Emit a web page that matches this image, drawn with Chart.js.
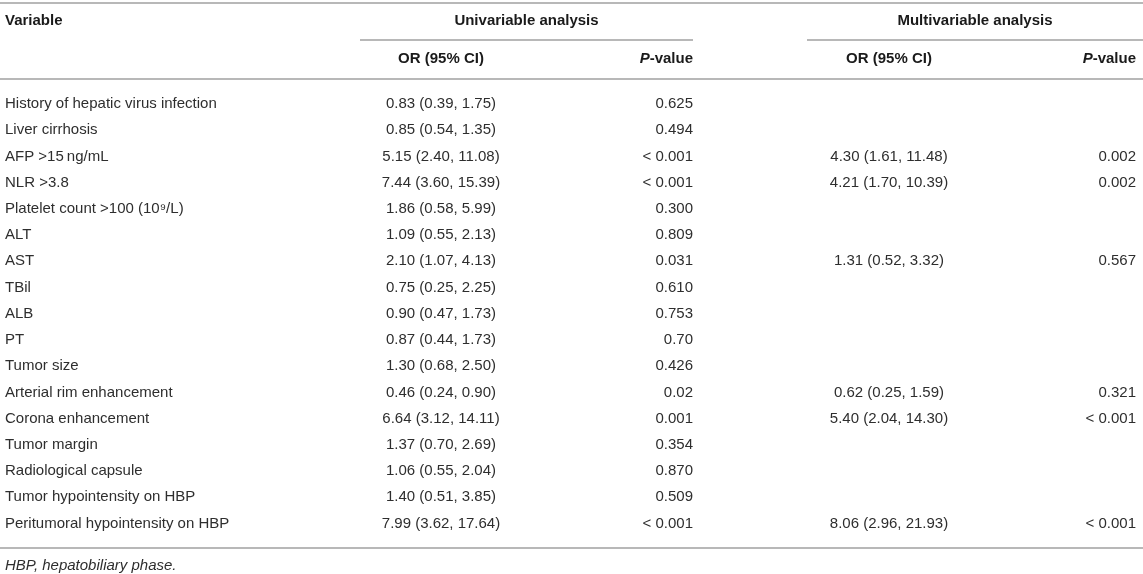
<!DOCTYPE html>
<html>
<head>
<meta charset="utf-8">
<script src="https://cdn.jsdelivr.net/npm/chart.js@4"></script>
<style>
  body { margin: 0; background: #fff; }
  #wrap { width: 1143px; height: 574px; position: relative; }
</style>
</head>
<body>
<div id="wrap"><canvas id="tableChart"></canvas></div>
<script>
// ----------------- Data
const variables = [
  'History of hepatic virus infection', 'Liver cirrhosis', 'AFP >15\u2009ng/mL', 'NLR >3.8',
  'Platelet count >100 (10\u2079/L)', 'ALT', 'AST', 'TBil', 'ALB', 'PT', 'Tumor size',
  'Arterial rim enhancement', 'Corona enhancement', 'Tumor margin', 'Radiological capsule',
  'Tumor hypointensity on HBP', 'Peritumoral hypointensity on HBP'
];
const uniOR = [
  '0.83 (0.39, 1.75)', '0.85 (0.54, 1.35)', '5.15 (2.40, 11.08)', '7.44 (3.60, 15.39)',
  '1.86 (0.58, 5.99)', '1.09 (0.55, 2.13)', '2.10 (1.07, 4.13)', '0.75 (0.25, 2.25)',
  '0.90 (0.47, 1.73)', '0.87 (0.44, 1.73)', '1.30 (0.68, 2.50)', '0.46 (0.24, 0.90)',
  '6.64 (3.12, 14.11)', '1.37 (0.70, 2.69)', '1.06 (0.55, 2.04)', '1.40 (0.51, 3.85)',
  '7.99 (3.62, 17.64)'
];
const uniP = [
  '0.625', '0.494', '< 0.001', '< 0.001', '0.300', '0.809', '0.031', '0.610', '0.753',
  '0.70', '0.426', '0.02', '0.001', '0.354', '0.870', '0.509', '< 0.001'
];
const multiOR = [
  '', '', '4.30 (1.61, 11.48)', '4.21 (1.70, 10.39)', '', '', '1.31 (0.52, 3.32)', '', '',
  '', '', '0.62 (0.25, 1.59)', '5.40 (2.04, 14.30)', '', '', '', '8.06 (2.96, 21.93)'
];
const multiP = [
  '', '', '0.002', '0.002', '', '', '0.567', '', '', '', '', '0.321', '< 0.001', '', '', '', '< 0.001'
];
const groupLabels = ['Univariable analysis', 'Multivariable analysis'];
const colLabels = ['OR (95% CI)', 'P-value'];
const firstHeader = 'Variable';
const footnote = 'HBP, hepatobiliary phase.';

// ----------------- Layout (pixels on x, row units on y)
const FONT = '"Liberation Sans", Arial, sans-serif';
const SIZE = 15;
const cols = [
  { x: 5, align: 'left', rows: variables },
  { x: 441, align: 'center', rows: uniOR },
  { x: 693, align: 'right', rows: uniP },
  { x: 889, align: 'center', rows: multiOR },
  { x: 1136, align: 'right', rows: multiP }
];
const groups = [{ from: 360, to: 693 }, { from: 807, to: 1143 }];
const HEAD1 = -3.17, HEAD2 = -1.72, TOPLINE = -3.86, UNDERLINE = -2.44, HEADLINE = -0.95,
      BOTLINE = 16.95, FOOT = 17.63;

const datasets = cols.map((c, ci) => ({
  label: 'col' + ci,
  data: c.rows.map((t, i) => ({ x: c.x, y: i, text: t })),
  pointRadius: 0,
  align: c.align
}));

const tablePlugin = {
  id: 'tableText',
  afterDatasetsDraw(chart) {
    const ctx = chart.ctx;
    const xs = chart.scales.x, ys = chart.scales.y;
    ctx.save();
    ctx.textBaseline = 'middle';

    // rules
    ctx.strokeStyle = '#b8b8b8';
    ctx.lineWidth = 2;
    const hline = (v, x0, x1) => {
      const y = Math.round(ys.getPixelForValue(v));
      ctx.beginPath();
      ctx.moveTo(xs.getPixelForValue(x0), y);
      ctx.lineTo(xs.getPixelForValue(x1), y);
      ctx.stroke();
    };
    hline(TOPLINE, 0, 1143);
    groups.forEach(g => hline(UNDERLINE, g.from, g.to));
    hline(HEADLINE, 0, 1143);
    hline(BOTLINE, 0, 1143);

    // body cells
    ctx.fillStyle = '#2e2e2e';
    ctx.font = SIZE + 'px ' + FONT;
    chart.data.datasets.forEach((ds, di) => {
      const meta = chart.getDatasetMeta(di);
      ctx.textAlign = ds.align;
      meta.data.forEach((pt, i) => {
        const t = ds.data[i].text;
        if (t) ctx.fillText(t, pt.x, pt.y);
      });
    });

    // headers
    ctx.fillStyle = '#1a1a1a';
    ctx.font = 'bold ' + SIZE + 'px ' + FONT;
    ctx.textAlign = 'left';
    ctx.fillText(firstHeader, xs.getPixelForValue(cols[0].x), ys.getPixelForValue(HEAD1));
    ctx.textAlign = 'center';
    groups.forEach((g, gi) => {
      ctx.fillText(groupLabels[gi], xs.getPixelForValue((g.from + g.to) / 2), ys.getPixelForValue(HEAD1));
    });
    const y2 = ys.getPixelForValue(HEAD2);
    [1, 3].forEach(ci => {
      ctx.textAlign = 'center';
      ctx.font = 'bold ' + SIZE + 'px ' + FONT;
      ctx.fillText(colLabels[0], xs.getPixelForValue(cols[ci].x), y2);
    });
    [2, 4].forEach(ci => {
      const right = xs.getPixelForValue(cols[ci].x);
      const head = colLabels[1].slice(0, 1), rest = colLabels[1].slice(1);
      ctx.textAlign = 'left';
      ctx.font = 'bold ' + SIZE + 'px ' + FONT;
      const wRest = ctx.measureText(rest).width;
      ctx.font = 'italic bold ' + SIZE + 'px ' + FONT;
      const wHead = ctx.measureText(head).width;
      ctx.fillText(head, right - wRest - wHead, y2);
      ctx.font = 'bold ' + SIZE + 'px ' + FONT;
      ctx.fillText(rest, right - wRest, y2);
    });

    // footnote
    ctx.fillStyle = '#2e2e2e';
    ctx.font = 'italic ' + SIZE + 'px ' + FONT;
    ctx.textAlign = 'left';
    ctx.fillText(footnote, xs.getPixelForValue(cols[0].x), ys.getPixelForValue(FOOT));
    ctx.restore();
  }
};

document.addEventListener('DOMContentLoaded', function () {
  const ctx = document.getElementById('tableChart').getContext('2d');
  new Chart(ctx, {
    type: 'scatter',
    data: { datasets: datasets },
    options: {
      responsive: true,
      maintainAspectRatio: false,
      animation: false,
      layout: { padding: 0 },
      scales: {
        x: { type: 'linear', min: 0, max: 1143, display: false },
        y: { type: 'linear', min: -3.97, max: 17.93, reverse: true, display: false }
      },
      plugins: { legend: { display: false }, tooltip: { enabled: false } }
    },
    plugins: [tablePlugin]
  });
});
</script>
</body>
</html>
